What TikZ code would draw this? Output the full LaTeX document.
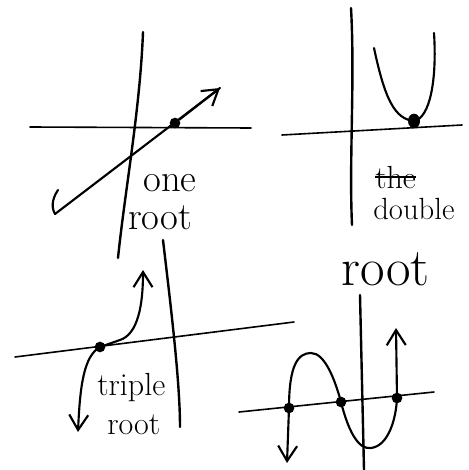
\documentclass[tikz,border=0pt]{standalone}
\usetikzlibrary{arrows.meta,shapes.geometric}
\tikzset{
  axis/.style ={line width=1.8pt, line cap=round},
  xaxis/.style={line width=1.2pt, line cap=round},
  curve/.style={line width=1.6pt, line cap=round},
  arr/.style  ={-{Straight Barb[length=4mm, width=5mm, line width=1.6pt]}},
  rootdot/.style={circle, fill=black, inner sep=0pt, minimum size=8pt},
  lbl/.style  ={font=\fontsize{#1}{#1}\selectfont, inner sep=0pt, anchor=base west},
  lbl/.default=22,
}

\begin{document}
\begin{tikzpicture}[x=0.75pt, y=-0.75pt]
  \useasboundingbox (0,0) rectangle (468,470);
  % one root
  \draw[axis] (143,32) .. controls (140,110) and (125,190) .. (118,258);
  \draw[xaxis] (30,127) -- (251,128);
  \node[rootdot] (one) at (175,123) {};
  \coordinate (oneA) at (55,214);
  \coordinate (oneB) at (220,88);
  \draw[curve] (oneA) -- (oneB);
  \draw[curve, arr] (one) -- (oneB);
  \draw[curve] (oneA) .. controls (50,205) and (54,196) .. (58,190);
  \node[lbl=29] (oneT) at (143,191) {one};
  \node[lbl=29] (oneR) at (128,229) {root};
  % double root
  \draw[axis] (351,8) .. controls (355,80) and (349,160) .. (352,225);
  \draw[xaxis] (282,135) -- (462,125);
  \node[rootdot, ellipse, minimum width=9pt, minimum height=11pt] (dbl) at (414,121) {};
  \draw[curve] (374,48) .. controls (385,100) and (395,119) .. (dbl.center)
               .. controls (430,118) and (437,80) .. (434,33);
  \node[lbl=24] (scr) at (375,188) {the};
  \draw[line width=2pt] (scr.west) -- (scr.east);
  \node[lbl=23] (dblT) at (373,219) {double};
  \node[lbl=40] (dblR) at (341,285) {root};
  % triple root
  \draw[axis] (163,240) .. controls (170,300) and (180,380) .. (180,427);
  \draw[xaxis] (15,357) -- (294,322);
  \node[rootdot] (tri) at (100,347) {};
  \coordinate (triDown) at (78,432);
  \coordinate (triUp) at (143,270);
  \draw[curve, arr] (tri.center) .. controls (84,356) and (80,385) .. (triDown);
  \draw[curve, arr] (tri.center) -- (120,340) .. controls (138,334) and (143,305) .. (triUp);
  \node[lbl=24] (triT) at (97,395) {triple};
  \node[lbl=24] (triR) at (107,434) {root};
  % three roots
  \draw[axis] (360,295) -- (364,470);
  \draw[xaxis] (239,412) -- (434,392);
  \node[rootdot] (ra) at (289,408) {};
  \node[rootdot] (rb) at (341,402) {};
  \node[rootdot] (rc) at (397,398) {};
  \coordinate (raDown) at (287,463);
  \coordinate (rcUp) at (396,328);
  \draw[curve, arr] (ra.center) -- (raDown);
  \draw[curve] (ra.center) .. controls (289,365) and (298,353) .. (311,353)
                .. controls (325,353) and (335,380) .. (rb.center)
                .. controls (348,430) and (358,450) .. (371,448)
                .. controls (388,446) and (396,420) .. (rc.center);
  \draw[curve, arr] (rc.center) -- (rcUp);
\end{tikzpicture}
\end{document}
